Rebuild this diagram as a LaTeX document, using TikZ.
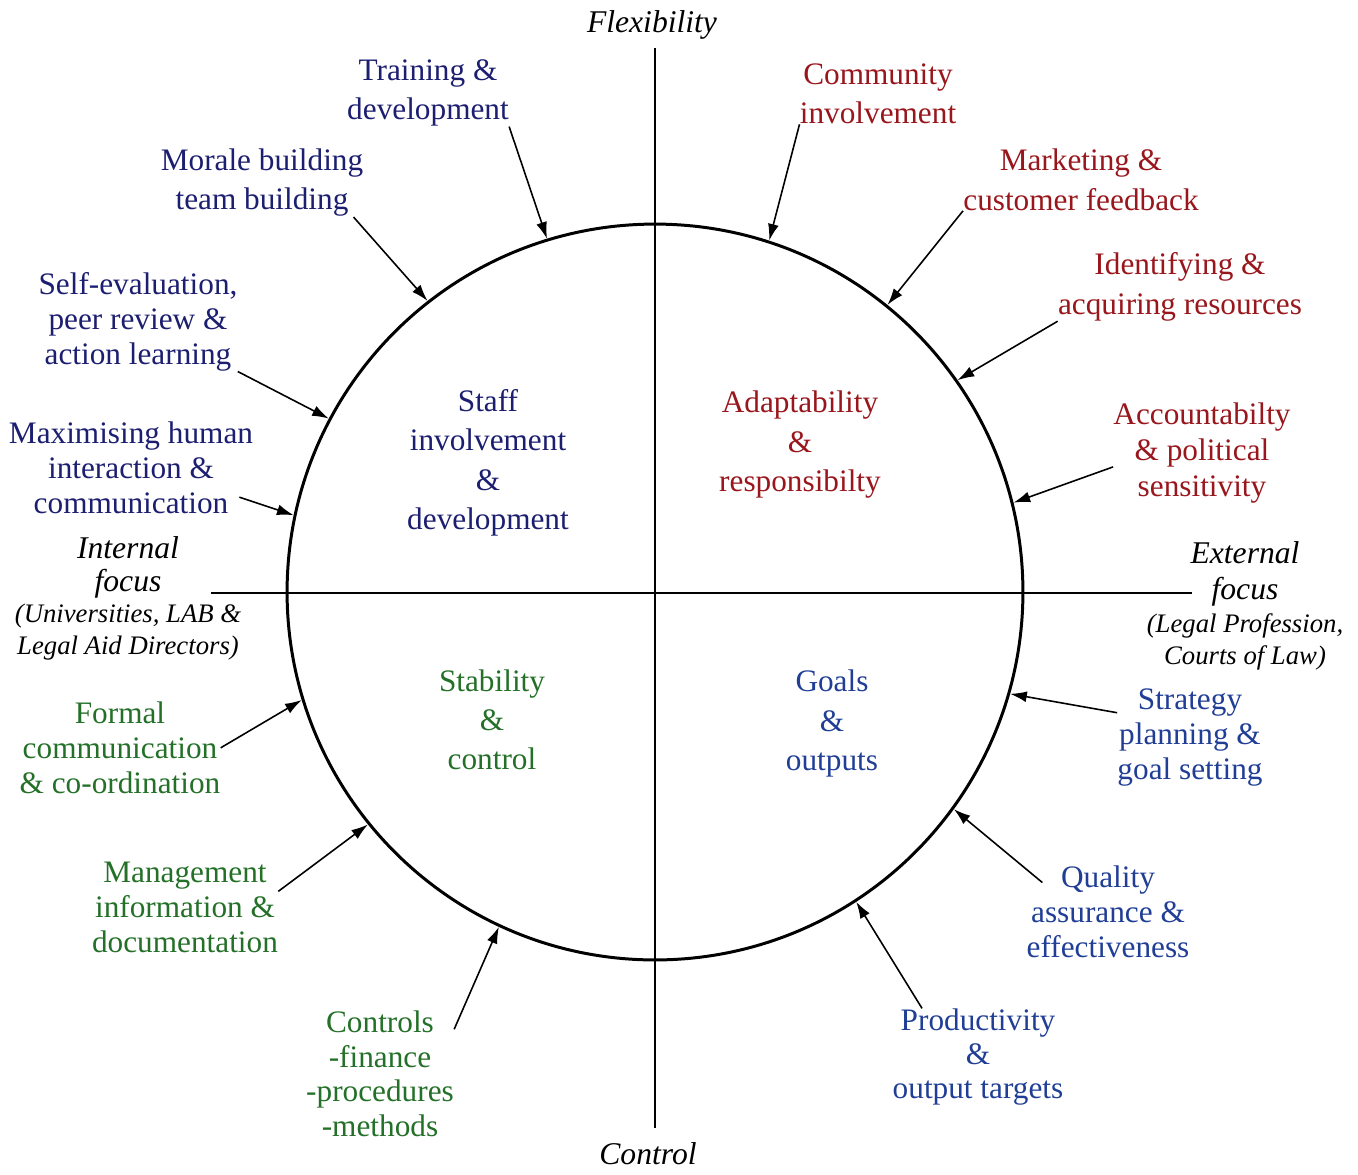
\documentclass[tikz,border=0pt]{standalone}
\usepackage{fontspec}
\setmainfont{Liberation Serif}
\usetikzlibrary{arrows.meta}
\definecolor{staffblue}{RGB}{28,30,112}
\definecolor{adaptred}{RGB}{152,22,28}
\definecolor{stabgreen}{RGB}{36,112,40}
\definecolor{goalblue}{RGB}{32,62,150}
\tikzset{
    lbl/.style={align=center, inner sep=0pt, yshift=-1.6pt, font=\fontsize{17.8}{19.9}\selectfont},
    loose/.style={font=\fontsize{17.8}{22.4}\selectfont},
    axlbl/.style={align=center, inner sep=0pt, yshift=-1.6pt, font=\fontsize{18}{19}\selectfont\itshape},
    sublbl/.style={align=center, inner sep=0pt, yshift=-1.2pt, font=\fontsize{15.2}{18.2}\selectfont\itshape},
    arr/.style={-{Latex[length=9.5pt,width=6.2pt]}, line width=0.9pt},
}
\begin{document}
\begin{tikzpicture}[x=0.02cm, y=-0.02cm]
    \useasboundingbox (0,0) rectangle (1358,1174);
    % axes
    \node[axlbl] (flex) at (652,22) {Flexibility};
    \node[axlbl, yshift=1.6pt] (ctrl) at (648,1154) {Control};
    \node[axlbl, font=\fontsize{18}{18.8}\selectfont\itshape] (intern) at (128,565) {Internal\\focus};
    \node[sublbl] (internsub) at (128,630) {(Universities, LAB \&\\Legal Aid Directors)};
    \node[axlbl, font=\fontsize{18}{20.4}\selectfont\itshape] (extern) at (1245,571) {External\\focus};
    \node[sublbl] (externsub) at (1245,640) {(Legal Profession,\\Courts of Law)};
    \coordinate (axtop) at (655,48);
    \coordinate (axbot) at (655,1128);
    \coordinate (axleft) at (211,593);
    \coordinate (axright) at (1192,593);
    \draw[line width=0.85pt] (axtop) -- (axbot);
    \draw[line width=0.85pt] (axleft) -- (axright);
    \node[circle, draw, line width=1.7pt, minimum size=14.72cm, inner sep=0pt] (ring) at (655,592) {};
    % quadrants
    \node[lbl, loose, text=staffblue] (staff) at (488,460) {Staff\\involvement\\\&\\development};
    \node[lbl, loose, text=adaptred] (adapt) at (800,442) {Adaptability\\\&\\responsibilty};
    \node[lbl, loose, text=stabgreen] (stab) at (492,717) {Stability\\\&\\control};
    \node[lbl, loose, text=goalblue] (goals) at (832,721) {Goals\\\&\\outputs};
    % staff involvement side
    \node[lbl, loose, text=staffblue] (train) at (428,90) {Training \&\\development};
    \node[lbl, loose, text=staffblue] (morale) at (262,180) {Morale building\\team building};
    \node[lbl, text=staffblue] (selfev) at (138,319) {Self-evaluation,\\peer review \&\\action learning};
    \node[lbl, text=staffblue] (maxhum) at (131,465) {Maximising human\\interaction \&\\communication};
    % adaptability side
    \node[lbl, loose, text=adaptred] (commun) at (878,91) {Community\\involvement};
    \node[lbl, loose, text=adaptred] (market) at (1081,177) {Marketing \&\\customer feedback};
    \node[lbl, loose, text=adaptred] (ident) at (1180,284) {Identifying \&\\acquiring resources};
    \node[lbl, text=adaptred, font=\fontsize{17.8}{20.4}\selectfont] (account) at (1202,450) {Accountabilty\\\& political\\sensitivity};
    % stability side
    \node[lbl, text=stabgreen] (formal) at (120,745) {Formal\\communication\\\& co-ordination};
    \node[lbl, text=stabgreen] (mgmt) at (185,905) {Management\\information \&\\documentation};
    \node[lbl, text=stabgreen, font=\fontsize{17.8}{19.6}\selectfont] (ctrls) at (380,1071) {Controls\\-finance\\-procedures\\-methods};
    % goals side
    \node[lbl, text=goalblue] (strat) at (1190,735) {Strategy\\planning \&\\goal setting};
    \node[lbl, text=goalblue] (quality) at (1108,909) {Quality\\assurance \&\\effectiveness};
    \node[lbl, text=goalblue, font=\fontsize{17.8}{19.3}\selectfont] (prod) at (978,1054) {Productivity\\\&\\output targets};
    % arrows onto the circle
    \draw[arr] (train.south east) -- (ring.107);
    \draw[arr] ([xshift=-0.2cm]morale.south east) -- (ring.128);
    \draw[arr] (selfev.south east) -- (ring.152);
    \draw[arr] ([xshift=-0.28cm, yshift=0.34cm]maxhum.south east) -- (ring.168);
    \draw[arr] (formal.east) -- (ring.197);
    \draw[arr] (mgmt.10) -- (ring.219);
    \draw[arr] (ctrls.31) -- (ring.245);
    \draw[arr] (commun.south west) -- (ring.72);
    \draw[arr] (market.south west) -- (ring.51);
    \draw[arr] (ident.south west) -- (ring.35);
    \draw[arr] (account.189) -- (ring.14);
    \draw[arr] (strat.161) -- (ring.-16);
    \draw[arr] ([xshift=0.32cm, yshift=-0.34cm]quality.north west) -- (ring.-36);
    \draw[arr] ([xshift=-1.12cm]prod.north) -- (ring.-57);
\end{tikzpicture}
\end{document}
